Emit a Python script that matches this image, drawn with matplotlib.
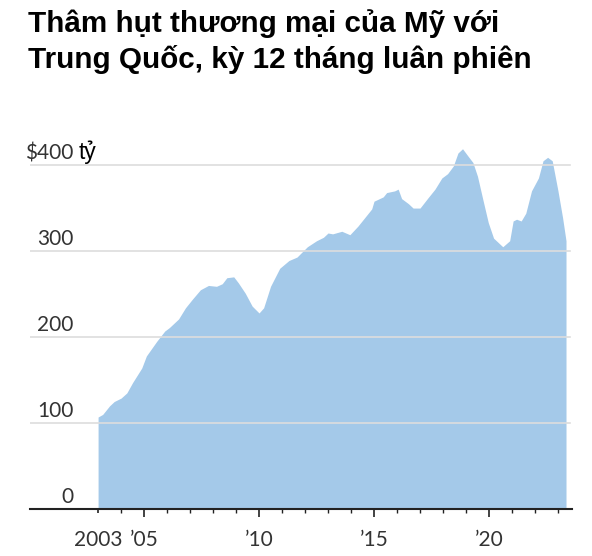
import matplotlib
matplotlib.use("Agg")
import matplotlib.pyplot as plt
from matplotlib.ticker import FixedLocator

# thâm hụt thương mại, tỷ USD, kỳ 12 tháng luân phiên
years = [2003.0, 2003.2, 2003.5, 2003.7, 2004.0, 2004.25, 2004.5, 2004.9,
         2005.1, 2005.55, 2005.9, 2006.1, 2006.5, 2006.8, 2007.1, 2007.45,
         2007.8, 2008.15, 2008.4, 2008.6, 2008.9, 2009.1, 2009.4, 2009.7,
         2010.0, 2010.2, 2010.5, 2010.9, 2011.3, 2011.65, 2012.1, 2012.5,
         2012.8, 2013.0, 2013.2, 2013.6, 2013.95, 2014.3, 2014.6, 2014.9,
         2015.0, 2015.4, 2015.55, 2015.9, 2016.05, 2016.2, 2016.5, 2016.7,
         2017.0, 2017.35, 2017.65, 2017.95, 2018.2, 2018.45, 2018.65, 2018.85,
         2019.1, 2019.3, 2019.5, 2019.75, 2019.97, 2020.2, 2020.6, 2020.9,
         2021.05, 2021.2, 2021.4, 2021.6, 2021.85, 2022.15, 2022.35, 2022.55,
         2022.75, 2023.0, 2023.2, 2023.35]
deficit = [107, 110, 120, 125, 129, 135, 147, 164,
           178, 195, 207, 211, 221, 234, 244, 255,
           260, 259, 262, 269, 270, 263, 251, 236,
           228, 234, 259, 280, 289, 293, 305, 312,
           316, 321, 320, 323, 319, 329, 339, 349,
           358, 363, 368, 370, 372, 361, 355, 350,
           350, 362, 372, 385, 390, 399, 414, 419,
           410, 403, 387, 358, 333, 315, 305, 312,
           335, 337, 335, 344, 370, 385, 405, 409,
           405, 370, 339, 312]

y_ticks = [100, 200, 300, 400]
y_labels = ["100", "200", "300", "$400"]
x_major = [2003, 2005, 2010, 2015, 2020]
x_labels = ["2003", "\u201905", "\u201910", "\u201915", "\u201920"]

title_lines = ["Thâm hụt thương mại của Mỹ với",
               "Trung Quốc, kỳ 12 tháng luân phiên"]

num_family = ["Lato", "DejaVu Sans"]

fig = plt.figure(figsize=(5.92, 5.56), dpi=100)
ax = fig.add_axes([0.0507, 0.0845, 0.9155, 0.665])

ax.fill_between(years, deficit, 0, color="#a4c9e9", linewidth=0, zorder=1)

for v in y_ticks:
    ax.axhline(v, xmin=0, xmax=0.996, color="#dddddd", lw=1.2, zorder=2)

ax.set_xlim(2000.04, 2023.61)
ax.set_ylim(0, 430)

for s in ["top", "right", "left"]:
    ax.spines[s].set_visible(False)
ax.spines["bottom"].set_linewidth(1.5)
ax.spines["bottom"].set_color("#222222")
ax.spines["bottom"].set_zorder(3)

ax.set_yticks([])
ax.xaxis.set_major_locator(FixedLocator(x_major))
ax.set_xticklabels(x_labels)
ax.xaxis.set_minor_locator(FixedLocator(range(2003, 2024)))
ax.tick_params(axis="x", which="major", length=6, width=1.2, color="#222222",
               pad=9, labelsize=15, labelcolor="#333333")
ax.tick_params(axis="x", which="minor", length=3, width=1.0, color="#222222")
ax.xaxis.get_major_ticks()[0].tick1line.set_markersize(3)
for lab in ax.get_xticklabels():
    lab.set_family(num_family)

trans = ax.get_yaxis_transform()
for v, lab in zip(y_ticks + [0], y_labels + ["0"]):
    ax.text(0.080, v + 7, lab, transform=trans, ha="right", va="baseline",
            fontsize=15, color="#333333", family=num_family)
ax.text(0.09, 407, "tỷ", transform=trans, ha="left", va="baseline",
        fontsize=16.5, color="black", family=["Liberation Sans", "DejaVu Sans"])

fig.text(0.047, 0.9419, title_lines[0], ha="left", va="baseline",
         fontsize=21.3, fontweight="bold",
         family=["Liberation Sans", "DejaVu Sans"])
fig.text(0.047, 0.8772, title_lines[1], ha="left", va="baseline",
         fontsize=21.3, fontweight="bold",
         family=["Liberation Sans", "DejaVu Sans"])

fig.savefig("out.png", dpi=100)
